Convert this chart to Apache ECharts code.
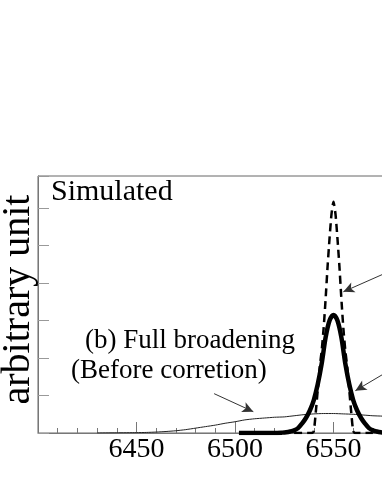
<!DOCTYPE html>
<html>
<head>
<meta charset="utf-8">
<script src="https://cdn.jsdelivr.net/npm/echarts@6/dist/echarts.min.js"></script>
<style>
  html, body { margin: 0; padding: 0; background: #fff; }
  #chart { width: 382px; height: 494px; }
</style>
</head>
<body>
<div id="chart"></div>
<script>
// wavelength axis
const xMin = 6400;
const xMax = 6600;
const xTickStep = 50;

// (b) full broadening, before correction (thin line)
const thinX = [6430, 6440, 6450, 6455, 6460, 6465, 6470, 6475, 6480, 6485, 6490, 6495, 6500, 6505, 6510, 6515, 6520, 6525, 6530, 6535, 6540, 6545, 6550, 6555, 6560, 6565, 6570, 6575, 6580, 6590, 6600];
const thinY = [0, 0.005, 0.01, 0.015, 0.025, 0.04, 0.06, 0.09, 0.13, 0.17, 0.21, 0.26, 0.30, 0.35, 0.38, 0.40, 0.42, 0.43, 0.46, 0.49, 0.51, 0.52, 0.52, 0.51, 0.50, 0.48, 0.46, 0.45, 0.43, 0.40, 0.37];

// thick solid profile
const solidX = [6502, 6520, 6524, 6526, 6528, 6530, 6532, 6534, 6536, 6538, 6540, 6542, 6544, 6546, 6548, 6550, 6552, 6554, 6556, 6558, 6560, 6562, 6564, 6566, 6568, 6570, 6572, 6574, 6576, 6580, 6600];
const solidY = [0, 0, 0.01, 0.02, 0.04, 0.07, 0.13, 0.25, 0.40, 0.60, 0.88, 1.30, 1.85, 2.55, 3.00, 3.15, 3.00, 2.55, 1.85, 1.30, 0.88, 0.60, 0.40, 0.25, 0.13, 0.07, 0.04, 0.02, 0.01, 0, 0];

// dashed narrow profile
const dashX = [6530, 6539, 6540, 6541, 6542, 6543, 6544, 6545, 6546, 6547, 6548, 6549, 6550, 6551, 6552, 6553, 6554, 6555, 6556, 6557, 6558, 6559, 6560, 6561, 6570];
const dashY = [0, 0, 0.05, 0.55, 1.15, 1.75, 2.2, 2.8, 3.58, 4.45, 5.2, 5.85, 6.17, 5.85, 5.2, 4.45, 3.58, 2.8, 2.2, 1.75, 1.15, 0.55, 0.05, 0, 0];

// arrows: [from, to] in data units
const arrows = [
  [[6595, 4.70], [6555.0, 3.77]],
  [[6590, 2.03], [6561.1, 1.13]],
  [[6489.4, 1.05], [6509.3, 0.57]]
];

const pairs = (xs, ys) => xs.map((x, i) => [x, ys[i]]);

const serif = 'Liberation Serif';
const chart = echarts.init(document.getElementById('chart'));

const option = {
  animation: false,
  backgroundColor: '#fff',
  grid: {
    left: 38,
    top: 176,
    bottom: 61,
    width: 394,
    outerBoundsMode: 'none',
    containLabel: false,
    show: true,
    borderColor: '#666',
    borderWidth: 1
  },
  xAxis: {
    type: 'value',
    min: xMin,
    max: xMax,
    interval: xTickStep,
    axisLine: { lineStyle: { color: '#777', width: 1 } },
    axisTick: { inside: true, length: 11, lineStyle: { color: '#777' } },
    minorTick: { show: true, splitNumber: 5, length: 5, lineStyle: { color: '#777' } },
    splitLine: { show: false },
    axisLabel: {
      showMinLabel: false,
      margin: 3,
      color: '#000',
      fontFamily: serif,
      fontSize: 28,
      formatter: v => String(v)
    }
  },
  yAxis: {
    type: 'value',
    min: 0,
    max: 6.86,
    interval: 1,
    name: 'arbitrary unit',
    nameLocation: 'middle',
    nameRotate: 90,
    nameGap: 0,
    nameTextStyle: { color: '#000', fontFamily: serif, fontSize: 40, padding: [0, 0, 0, 10] },
    axisLine: { lineStyle: { color: '#777', width: 1 } },
    axisTick: { inside: true, length: 11, lineStyle: { color: '#999' } },
    splitLine: { show: false },
    axisLabel: { show: false }
  },
  series: [
    {
      type: 'line',
      data: pairs(thinX, thinY),
      showSymbol: false,
      smooth: 0.2,
      lineStyle: { color: '#222', width: 1 },
      markLine: {
        silent: true,
        symbol: ['none', 'arrow'],
        symbolSize: [8, 11],
        label: { show: false },
        lineStyle: { color: '#333', width: 1, type: 'solid' },
        data: arrows.map(a => [{ coord: a[0] }, { coord: a[1] }])
      }
    },
    {
      type: 'line',
      data: pairs(dashX, dashY),
      showSymbol: false,
      smooth: 0.2,
      lineStyle: { color: '#000', width: 2.5, type: [8, 5] }
    },
    {
      type: 'line',
      data: pairs(solidX, solidY),
      showSymbol: false,
      smooth: 0.3,
      lineStyle: { color: '#000', width: 4.5 }
    }
  ],
  graphic: [
    {
      type: 'text', left: 51, top: 177,
      style: { text: 'Simulated', font: '30px "Liberation Serif"', fill: '#000' }
    },
    {
      type: 'text', left: 85, top: 327,
      style: { text: '(b) Full broadening', font: '27px "Liberation Serif"', fill: '#000' }
    },
    {
      type: 'text', left: 71, top: 357,
      style: { text: '(Before corretion)', font: '27px "Liberation Serif"', fill: '#000' }
    }
  ]
};

chart.setOption(option);
</script>
</body>
</html>
